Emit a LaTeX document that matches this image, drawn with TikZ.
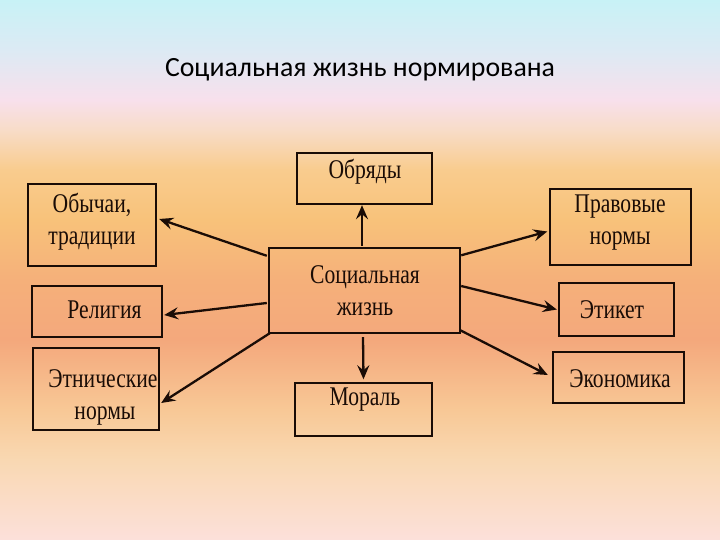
\documentclass[tikz,border=0pt]{standalone}
\usepackage{fontspec}
\setmainfont{Liberation Serif}
\newfontfamily\titlefont{Carlito}
\newfontfamily\boxfont[FakeStretch=0.8]{Liberation Serif}
\usetikzlibrary{arrows.meta}
\definecolor{ink}{HTML}{1A0C06}
\definecolor{bga}{HTML}{FCE0DA}
\definecolor{bgb}{HTML}{F9D8B2}
\definecolor{bgc}{HTML}{F8C896}
\definecolor{bgd}{HTML}{F4A87C}
\definecolor{bge}{HTML}{F5B07A}
\definecolor{bgf}{HTML}{F8C27A}
\definecolor{bgg}{HTML}{F9CC8E}
\definecolor{bgh}{HTML}{F8DCC8}
\definecolor{bgi}{HTML}{F8E0EC}
\definecolor{bgj}{HTML}{DCEAF4}
\definecolor{bgk}{HTML}{C8F2F6}
\pgfdeclareverticalshading{bgshade}{720bp}{color(0bp)=(bga); color(80bp)=(bgb); color(130bp)=(bgc); color(200bp)=(bgd); color(260bp)=(bge); color(320bp)=(bgf); color(370bp)=(bgg); color(410bp)=(bgh); color(440bp)=(bgi); color(490bp)=(bgj); color(540bp)=(bgk)}
\begin{document}
\begin{tikzpicture}[x=1bp,y=-1bp,
  box/.style={draw=ink, line width=2.4bp, inner sep=0pt, fill=none},
  txt/.style={font=\boxfont\fontsize{27bp}{32bp}\selectfont, inner sep=0pt, anchor=base, text=ink},
  arr/.style={draw=ink, line width=2.3bp, -{Stealth[length=14bp,width=12bp,inset=5bp]}}]
\useasboundingbox (0,0) rectangle (720,540);
\node[inner sep=0pt, anchor=south west] (bg) at (0,540) {\pgfuseshading{bgshade}};
\node[inner sep=0pt, anchor=base, font=\titlefont\fontsize{27.8bp}{32bp}\selectfont] (title) at (360,77) {Социальная жизнь нормирована};
% boxes
\node[box, minimum width=135bp, minimum height=51bp] (obr) at (364.5,178.5) {};
\node[box, minimum width=128bp, minimum height=82bp] (obych) at (92,225) {};
\node[box, minimum width=130bp, minimum height=51bp] (rel) at (97,311.5) {};
\node[box, minimum width=126bp, minimum height=82bp] (etn) at (96,389) {};
\node[box, minimum width=191bp, minimum height=85bp] (soc) at (364.5,290.5) {};
\node[box, minimum width=137bp, minimum height=53bp] (mor) at (363.5,409.5) {};
\node[box, minimum width=141bp, minimum height=76bp] (prav) at (620.5,227) {};
\node[box, minimum width=115bp, minimum height=53bp] (etik) at (616.5,309.5) {};
\node[box, minimum width=131bp, minimum height=51bp] (ekon) at (618.5,377.5) {};
% texts
\node[txt] (tobr) at (365,179) {Обряды};
\node[txt] (tobych1) at (92,213) {Обычаи,};
\node[txt] (tobych2) at (92,245) {традиции};
\node[txt] (trel) at (104.5,318) {Религия};
\node[txt] (tetn1) at (103,387) {Этнические};
\node[txt] (tetn2) at (105,419) {нормы};
\node[txt] (tsoc1) at (365,284) {Социальная};
\node[txt] (tsoc2) at (365,315) {жизнь};
\node[txt] (tmor) at (365,405) {Мораль};
\node[txt] (tprav1) at (620,213) {Правовые};
\node[txt] (tprav2) at (620,245) {нормы};
\node[txt] (tetik) at (612,318) {Этикет};
\node[txt] (tekon) at (620,387) {Экономика};
% arrows
\draw[arr] ([xshift=-2.5bp,yshift=1bp]soc.north) -- ([xshift=-2.5bp]obr.south);
\draw[arr] ([xshift=-1bp,yshift=-9bp]soc.north west) -- ([xshift=2bp,yshift=6bp]obych.east);
\draw[arr] ([xshift=-1bp,yshift=-12.5bp]soc.west) -- ([xshift=1bp,yshift=-3.5bp]rel.east);
\draw[arr] ([xshift=2bp,yshift=1bp]soc.south west) -- ([xshift=1bp,yshift=-14bp]etn.east);
\draw[arr] ([xshift=-1.5bp,yshift=-3bp]soc.south) -- ([yshift=2.5bp]mor.north);
\draw[arr] ([yshift=-8.5bp]soc.north east) -- ([xshift=-1.5bp,yshift=-4.5bp]prav.west);
\draw[arr] ([yshift=4.5bp]soc.east) -- ([xshift=-1bp]etik.west);
\draw[arr] ([xshift=-1bp,yshift=4bp]soc.south east) -- ([xshift=-4bp,yshift=2.5bp]ekon.west);
\end{tikzpicture}
\end{document}
